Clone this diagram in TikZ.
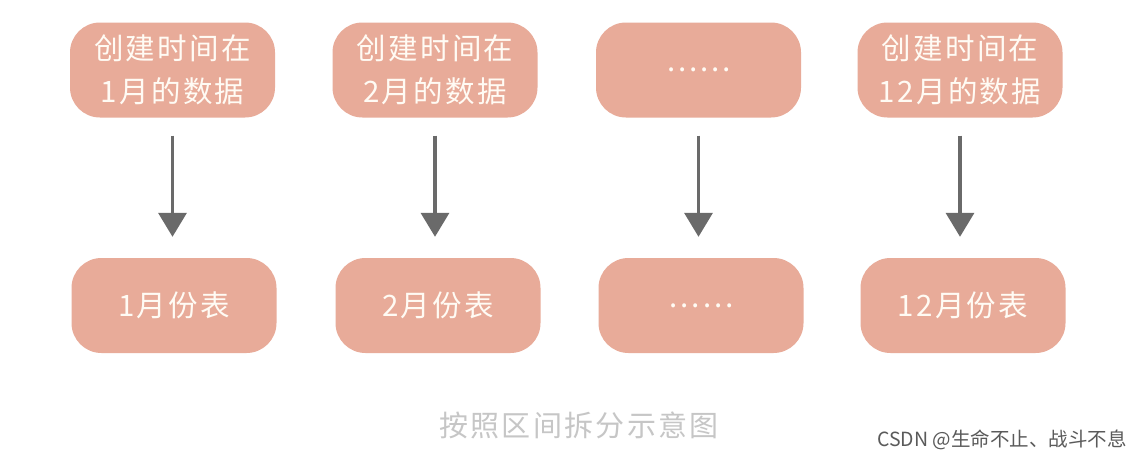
\documentclass[tikz,border=0pt]{standalone}
\usepackage{fontspec}
\setmainfont{Noto Sans CJK SC}
\newfontfamily\cjkf[LetterSpace=8]{Noto Sans CJK SC}
\usetikzlibrary{arrows.meta}
\definecolor{boxc}{HTML}{E8AB99}
\definecolor{arrc}{HTML}{6A6A6A}
\definecolor{capc}{HTML}{C6C6C6}
\definecolor{wmc}{HTML}{5A5A5A}
\definecolor{txtc}{HTML}{FFFBF4}
\begin{document}
\begin{tikzpicture}[x=1pt,y=-1pt,
  databox/.style={rounded corners=30pt, fill=boxc, draw=none,
    minimum width=205pt, minimum height=95pt, text=txtc, align=center,
    inner sep=0pt, font=\cjkf\fontsize{29.5}{43}\selectfont},
  tablebox/.style={databox},
  flowarrow/.style={draw=arrc, line width=3.5pt,
    -{Triangle[length=24pt,width=28pt]}, shorten <=18pt, shorten >=21pt}]
\useasboundingbox (0,0) rectangle (1142,458);
\fill[white] (0,0) rectangle (1142,458);
\node[databox] (t1) at (172.5,70) {创建时间在\\1月的数据};
\node[databox] (t2) at (435,70) {创建时间在\\2月的数据};
\node[databox] (t3) at (698.5,70) {……};
\node[databox] (t4) at (960,70) {创建时间在\\12月的数据};
\node[tablebox] (b1) at (174,305.5) {1月份表};
\node[tablebox] (b2) at (438,305.5) {2月份表};
\node[tablebox] (b3) at (701,305.5) {……};
\node[tablebox] (b4) at (963,305.5) {12月份表};
\foreach \i in {1,2,3,4}{
  \draw[flowarrow] (t\i.south) -- (t\i.south |- b\i.north);
}
\node[text=capc, font=\cjkf\fontsize{29}{34}\selectfont, inner sep=0pt] (cap) at (579,425) {按照区间拆分示意图};
\node[text=wmc, font=\fontsize{19.5}{22}\selectfont, anchor=east, inner sep=0pt] (wm) at (1127,440) {CSDN @生命不止、战斗不息};
\end{tikzpicture}
\end{document}
